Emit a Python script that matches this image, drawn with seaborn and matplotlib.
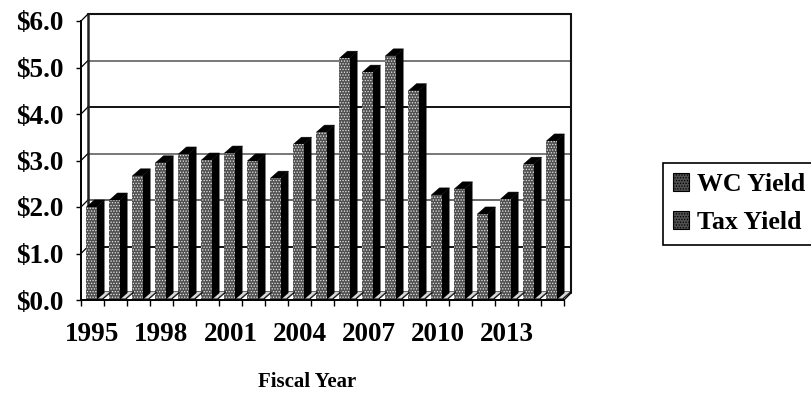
import pandas as pd
import matplotlib
matplotlib.use("Agg")
import matplotlib.pyplot as plt
from matplotlib.patches import Patch, Polygon
import seaborn as sns

years = list(range(1995, 2016))
wc_yield = [2.00, 2.15, 2.67, 2.95, 3.14, 3.01, 3.16, 2.99, 2.62, 3.35, 3.61,
            5.20, 4.90, 5.25, 4.50, 2.26, 2.39, 1.85, 2.17, 2.92, 3.42]
tax_yield = [0.03] * 21
y_ticks = [0, 1, 2, 3, 4, 5, 6]
y_labels = ["$0.0", "$1.0", "$2.0", "$3.0", "$4.0", "$5.0", "$6.0"]
x_labels = ["1995", "1998", "2001", "2004", "2007", "2010", "2013"]
grid_colors = ["#111111", "#666666", "#777777", "#111111", "#777777"]  # $1 to $5

sns.set_theme(style="white")
plt.rcParams["font.family"] = ["Liberation Serif", "DejaVu Serif"]
plt.rcParams["font.weight"] = "bold"
plt.rcParams["hatch.linewidth"] = 0.6

W, H = 811, 394
fig = plt.figure(figsize=(W / 100, H / 100), dpi=100)
# front plane of the fake 3D box, the back wall sits up and to the right of it
ax = fig.add_axes([81 / W, 1 - 300 / H, 483 / W, 279 / H])

df = pd.DataFrame({
    "year": [str(y) for y in years] * 2,
    "value": wc_yield + tax_yield,
    "series": ["WC Yield"] * 21 + ["Tax Yield"] * 21,
})
sns.barplot(data=df, x="year", y="value", hue="series", width=0.87, gap=0,
            palette=["#505050", "#505050"], legend=False, errorbar=None, ax=ax)
ax.set_xlim(-0.5, 20.5)
ax.set_ylim(0, 6)

px_x = 1 / 23       # one pixel in category units
px_y = 1 / 46.5     # one pixel in dollars
wall_dx, wall_dy = 7 * px_x, 7 * px_y
depth_dx, depth_dy = 8 * px_x, 7 * px_y

# back wall and gridlines
frame = dict(clip_on=False, zorder=1)
x0, x1 = -0.5, 20.5
for val, col in zip(y_ticks[1:-1], grid_colors):
    ax.plot([x0 + wall_dx, x1 + wall_dx], [val + wall_dy] * 2, color=col, lw=1.4, **frame)
    ax.plot([x0, x0 + wall_dx], [val, val + wall_dy], color="black", lw=0.9, **frame)
ax.plot([x0 + wall_dx, x1 + wall_dx], [6 + wall_dy] * 2, color="#111111", lw=1.5, **frame)
ax.plot([x0 + wall_dx] * 2, [wall_dy, 6 + wall_dy], color="#222222", lw=1.8, **frame)
ax.plot([x1 + wall_dx] * 2, [wall_dy, 6 + wall_dy], color="#111111", lw=1.5, **frame)
ax.plot([x0, x0 + wall_dx], [6, 6 + wall_dy], color="black", lw=0.9, **frame)
ax.plot([x1, x1 + wall_dx], [0, wall_dy], color="black", lw=0.9, **frame)

# turn the flat bars into extruded ones, right to left so the left ones sit on top
n = len(years)
wc_bars = ax.patches[:n]
tax_bars = ax.patches[n:2 * n]
for i in range(n - 1, -1, -1):
    z = 3 + 2 * (n - i)
    for bar, shift, top_col, dz in ((tax_bars[i], 0, "#d8d8d8", 0),
                                    (wc_bars[i], 4 * px_x, "black", 1)):
        bar.set_x(bar.get_x() + shift)
        bar.set_hatch("......")
        bar.set_edgecolor("#e6e6e6")
        bar.set_linewidth(0)
        bar.set_zorder(z + dz + 0.5)
        x, w, h = bar.get_x(), bar.get_width(), bar.get_height()
        side = [(x + w, 0), (x + w + depth_dx, depth_dy), (x + w + depth_dx, h + depth_dy), (x + w, h)]
        top = [(x, h), (x + depth_dx, h + depth_dy), (x + w + depth_dx, h + depth_dy), (x + w, h)]
        ax.add_patch(Polygon(side, closed=True, fc="black", ec="none", zorder=z + dz, clip_on=False))
        ax.add_patch(Polygon(top, closed=True, fc=top_col, ec="black", lw=0.4, zorder=z + dz, clip_on=False))

# axes and ticks
for name in ("top", "right"):
    ax.spines[name].set_visible(False)
for name in ("left", "bottom"):
    ax.spines[name].set_color("black")
    ax.spines[name].set_linewidth(1.4)
    ax.spines[name].set_zorder(100)
ax.patch.set_alpha(0)

ax.set_yticks(y_ticks, y_labels, fontsize=19.5, fontweight="bold", color="black")
ax.tick_params(axis="y", length=3.6, width=1, color="black", pad=9, left=True)
ax.set_xticks([i - 0.5 for i in range(n + 1)], [""] * (n + 1))
ax.tick_params(axis="x", which="major", length=4.3, width=1, color="black", bottom=True)
ax.set_xticks(list(range(0, n - 2, 3)), x_labels, minor=True, fontsize=19.5, fontweight="bold", color="black")
ax.tick_params(axis="x", which="minor", length=0, pad=15.5, bottom=False)
ax.set_xlabel("Fiscal Year", fontsize=15, fontweight="bold", color="black", labelpad=0)
ax.xaxis.set_label_coords(0.469, -0.258)
ax.set_ylabel("")

handles = [Patch(fc="#505050", ec="black", lw=0.8, hatch="......", label="WC Yield"),
           Patch(fc="#505050", ec="black", lw=0.8, hatch="......", label="Tax Yield")]
leg = fig.legend(handles=handles, loc="upper left", bbox_to_anchor=(663 / W, 1 - 163 / H),
                 borderaxespad=0, fancybox=False, edgecolor="black", framealpha=1,
                 labelcolor="black",
                 prop={"family": "Liberation Serif", "weight": "bold", "size": 18.6},
                 handlelength=0.6, handleheight=0.7, handletextpad=0.3,
                 borderpad=0.4, labelspacing=0.58)
leg.get_frame().set_linewidth(1.2)

fig.savefig("out.png", dpi=100, facecolor="white")
